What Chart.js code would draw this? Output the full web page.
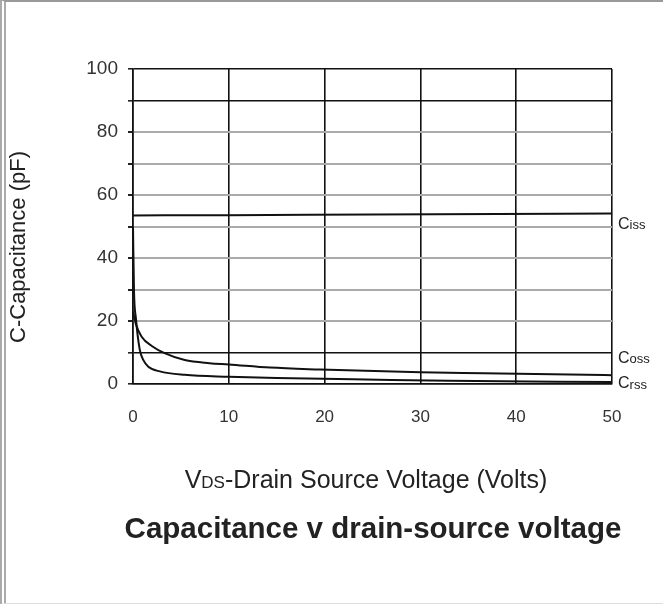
<!DOCTYPE html>
<html lang="en">
<head>
<meta charset="UTF-8">
<title>Capacitance v drain-source voltage</title>
<style>
  body {
    margin: 0;
    padding: 0;
    background: #fff;
    font-family: "Liberation Sans", Arial, sans-serif;
  }

  .frame {
    position: absolute;
    left: 0;
    top: 0;
    width: 663px;
    height: 604px;
    box-sizing: border-box;
    border-top: 2px solid #999;
    border-left: 6px double #aaa;
    border-bottom: 1px solid #ddd;
  }

  canvas {
    position: absolute;
    left: 0;
    top: 0;
  }
</style>
<script src="https://cdn.jsdelivr.net/npm/chart.js"></script>
</head>
<body>

<div class="frame"></div>
<canvas id="chart" width="663" height="604"></canvas>

<script>
// values
const cissV = [0, 10, 25, 50];
const cissC = [53.5, 53.6, 53.8, 54.1];

const cossV = [0, 0.3, 0.9, 2, 3.3, 5.4, 8, 10, 14.3, 19.5, 30, 36.6, 50];
const cossC = [23, 19, 15, 12, 9.8, 7.6, 6.6, 6.2, 5.2, 4.6, 3.7, 3.4, 2.8];

const crssV = [0, 0.1, 0.3, 0.7, 1.1, 1.6, 2.8, 5.4, 10, 15, 27, 33, 50];
const crssC = [50, 30, 21, 11, 7.5, 5.5, 4, 2.9, 2.3, 1.9, 1.3, 1.0, 0.6];

const xTicks = [0, 10, 20, 30, 40, 50];
const yTicks = [0, 20, 40, 60, 80, 100];
const darkLines = [0, 10, 90, 100];

const curveNames = ['Ciss', 'Coss', 'Crss'];

function pts(xs, ys) {
  return xs.map((x, i) => ({ x: x, y: ys[i] }));
}

const FONT = '"Liberation Sans", Arial, sans-serif';

// titles and curve names
const textPlugin = {
  id: 'texts',
  afterDraw(chart) {
    const ctx = chart.ctx;
    const y = chart.scales.y;
    ctx.save();
    ctx.fillStyle = '#222';
    ctx.textBaseline = 'middle';

    // curve names at the right end
    const namePos = [50.6, 8, 0];
    curveNames.forEach((n, i) => {
      const py = y.getPixelForValue(namePos[i]);
      let px = 618;
      ctx.font = '16px ' + FONT;
      ctx.textAlign = 'left';
      ctx.fillText(n[0], px, py);
      px += ctx.measureText(n[0]).width;
      ctx.font = '13px ' + FONT;
      ctx.fillText(n.slice(1), px, py + 1);
    });

    // y title
    ctx.save();
    ctx.translate(19, 247);
    ctx.rotate(-Math.PI / 2);
    ctx.font = '22px ' + FONT;
    ctx.textAlign = 'center';
    ctx.fillText('C-Capacitance (pF)', 0, 0);
    ctx.restore();

    // x title with small DS
    const parts = [['V', 25], ['DS', 17], ['-Drain Source Voltage (Volts)', 25]];
    let total = 0;
    parts.forEach(p => { ctx.font = p[1] + 'px ' + FONT; total += ctx.measureText(p[0]).width; });
    let px = 366 - total / 2;
    ctx.textAlign = 'left';
    ctx.textBaseline = 'alphabetic';
    parts.forEach(p => {
      ctx.font = p[1] + 'px ' + FONT;
      ctx.fillText(p[0], px, 488);
      px += ctx.measureText(p[0]).width;
    });

    // main title
    ctx.font = 'bold 29.5px ' + FONT;
    ctx.textAlign = 'center';
    ctx.fillText('Capacitance v drain-source voltage', 373, 538);
    ctx.restore();
  }
};

const line = (data) => ({
  data: data,
  borderColor: '#111',
  borderWidth: 2,
  pointRadius: 0,
  fill: false,
  cubicInterpolationMode: 'monotone'
});

const config = {
  type: 'scatter',
  data: {
    datasets: [
      line(pts(cissV, cissC)),
      line(pts(cossV, cossC)),
      line(pts(crssV, crssC))
    ].map(d => Object.assign(d, { showLine: true }))
  },
  options: {
    responsive: false,
    animation: false,
    layout: { padding: { top: 69, right: 51, left: 0, bottom: 0 } },
    plugins: {
      legend: { display: false },
      tooltip: { enabled: false }
    },
    scales: {
      x: {
        type: 'linear',
        min: 0,
        max: 50,
        afterFit(s) { s.height = 220; },
        afterBuildTicks(s) { s.ticks = xTicks.map(v => ({ value: v })); },
        grid: { color: '#111', lineWidth: 1.6, drawTicks: false },
        border: { color: '#111', width: 1.6 },
        ticks: {
          padding: 23,
          color: '#333',
          font: { family: FONT, size: 17 }
        }
      },
      y: {
        min: 0,
        max: 100,
        afterFit(s) { s.width = 133; },
        ticks: {
          stepSize: 10,
          padding: 10,
          color: '#333',
          font: { family: FONT, size: 19 },
          callback: v => yTicks.includes(v) ? v : ''
        },
        grid: {
          color: c => darkLines.includes(c.tick.value) ? '#111' : '#aaa',
          lineWidth: c => darkLines.includes(c.tick.value) ? 1.6 : 2,
          tickLength: 5,
          tickColor: '#222'
        },
        border: { color: '#111', width: 1.6 }
      }
    }
  },
  plugins: [textPlugin]
};

new Chart(document.getElementById('chart').getContext('2d'), config);
</script>
</body>
</html>
